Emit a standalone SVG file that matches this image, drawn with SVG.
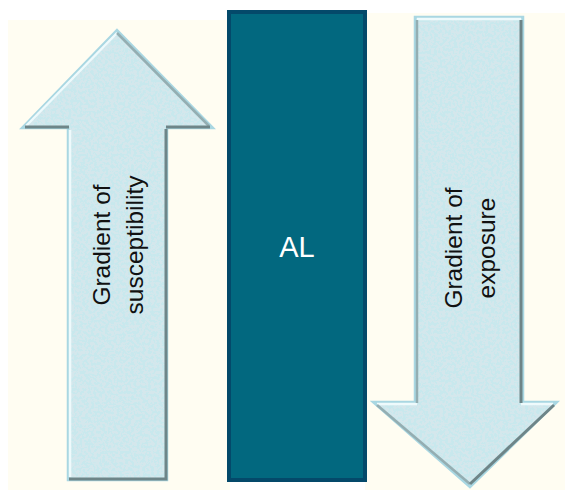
<svg xmlns="http://www.w3.org/2000/svg" width="565" height="490" viewBox="0 0 565 490">
<defs>
<style>
.arrow{fill:#c8e8ed;stroke:#a9d7e2;stroke-width:2.5;stroke-linejoin:miter}
.tex{fill:#c8e8ed;filter:url(#speck)}
.hl{stroke:#eefafc;stroke-width:2.5;fill:none}
.dk{stroke:#6e8588;stroke-width:3;fill:none}
.md{stroke:#94aeb2;stroke-width:2.5;fill:none}
.lbl{font-family:"Liberation Sans",Arial,sans-serif;font-size:24.5px;fill:#111;text-anchor:middle}
.al{font-family:"Liberation Sans",Arial,sans-serif;font-size:29px;fill:#ffffff;text-anchor:middle}
</style>
<filter id="speck" x="0" y="0" width="100%" height="100%">
<feTurbulence type="fractalNoise" baseFrequency="0.35" numOctaves="2" seed="3" result="n"/>
<feColorMatrix in="n" type="matrix" values="0 0 0 0 0.66  0 0 0 0 0.8  0 0 0 0 0.84  0 0 0 -12 6.6" result="s"/>
<feComposite in="s" in2="SourceGraphic" operator="in" result="sp"/>
<feMerge><feMergeNode in="SourceGraphic"/><feMergeNode in="sp"/></feMerge>
</filter>
</defs>
<rect x="0" y="0" width="565" height="490" fill="#ffffff"/>
<rect x="8" y="20" width="222" height="470" fill="#fffdf2"/>
<rect x="365" y="13" width="200" height="477" fill="#fffdf2"/>

<g id="arrow-up">
<polygon class="arrow" points="117,30 213,128 167,128 167,480 68,480 68,128 22,128"/>
<polygon class="tex" points="117,33 209,127 165,127 165,478 70,478 70,127 25,127"/>
<polyline class="hl" points="26,126 117,33"/>
<polyline class="hl" points="70,130 70,477"/>
<polyline class="md" points="117,33 209,126"/>
<polyline class="dk" points="25,127 69,127"/>
<polyline class="dk" points="166,127 210,127"/>
<polyline class="dk" points="166,129 166,479 69,479"/>
<text class="lbl" transform="translate(110,245) rotate(-90)">Gradient of</text>
<text class="lbl" transform="translate(143,245) rotate(-90)">susceptibility</text>
</g>

<g id="AL">
<rect x="229" y="12" width="136" height="468" fill="#02687f" stroke="#04496a" stroke-width="4"/>
<text class="al" x="297" y="257">AL</text>
</g>

<g id="arrow-down">
<polygon class="arrow" points="415,17 523,17 523,402 557,402 470,487 373,402 415,402"/>
<polygon class="tex" points="417,19 521,19 521,404 553,404 470,484 377,404 417,404"/>
<polyline class="hl" points="417,19 521,19"/>
<polyline class="hl" points="377,404 417,404"/>
<polyline class="hl" points="521,404 553,404"/>
<polyline class="md" points="417,20 417,403"/>
<polyline class="dk" points="521,20 521,403"/>
<polyline class="md" points="377,405 470,484"/>
<polyline class="dk" points="470,484 554,405"/>
<text class="lbl" transform="translate(462,248) rotate(-90)">Gradient of</text>
<text class="lbl" transform="translate(495,248) rotate(-90)">exposure</text>
</g>
<g id="connectors"/>
</svg>
